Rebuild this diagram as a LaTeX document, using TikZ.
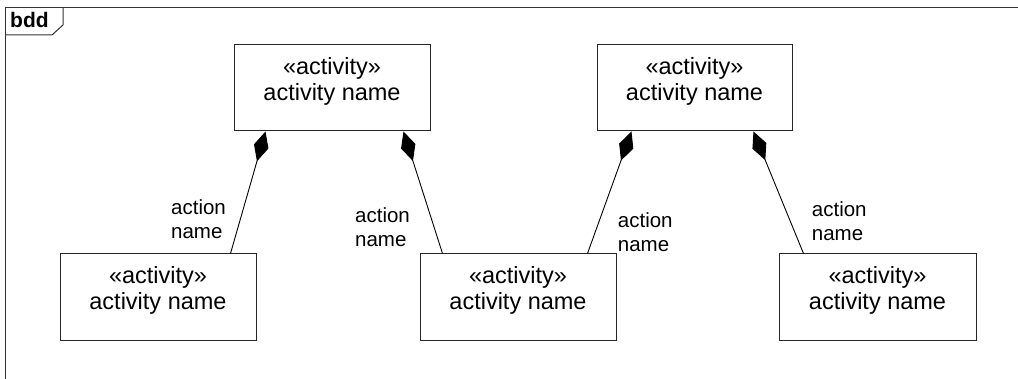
\documentclass[tikz,border=0pt]{standalone}
\usepackage{fontspec}
\setmainfont{Liberation Sans}
\usetikzlibrary{arrows.meta}
\tikzset{
  blockbox/.style={draw=black!85, line width=1pt, minimum width=196pt, minimum height=86pt, inner sep=0pt},
  blocktext/.style={anchor=north, inner sep=0pt, align=center, font=\fontsize{23.5}{26}\selectfont},
  rolelabel/.style={anchor=north west, inner sep=0pt, align=left, font=\fontsize{20.5}{24}\selectfont},
  frameline/.style={draw=black!80, line width=1pt},
  compo/.style={draw=black, line width=0.9pt, -{Diamond[length=31pt,width=15pt,fill=black]}}
}
\begin{document}
\begin{tikzpicture}[x=1pt,y=1pt]
\useasboundingbox (0,0) rectangle (1018,-379);
% frame
\coordinate (fTR) at (1018,-7.5);
\coordinate (fTL) at (5,-7.5);
\coordinate (fBL) at (5,-379);
\draw[frameline] (fTR) -- (fTL) -- (fBL);
\coordinate (tabA) at (63,-7.5);
\coordinate (tabB) at (63,-25);
\coordinate (tabC) at (52,-35);
\coordinate (tabD) at (5,-35);
\draw[frameline] (tabA) -- (tabB) -- (tabC) -- (tabD);
\node[anchor=base west, inner sep=0pt, font=\fontsize{21}{24}\selectfont\bfseries] (bdd) at (10,-27.3) {bdd};
% blocks
\node[blockbox] (tl) at (332,-88) {};
\node[blockbox, minimum width=195pt] (tr) at (694.5,-88) {};
\node[blockbox, minimum height=87pt] (bl) at (158,-297.5) {};
\node[blockbox, minimum height=87pt] (bm) at (518,-297.5) {};
\node[blockbox, minimum height=87pt, minimum width=197pt] (br) at (877.5,-297.5) {};
\node[blocktext] (tlt) at ([yshift=-12.5pt]tl.north) {«activity»\\activity name};
\node[blocktext] (trt) at ([yshift=-12.5pt]tr.north) {«activity»\\activity name};
\node[blocktext] (blt) at ([yshift=-12.5pt]bl.north) {«activity»\\activity name};
\node[blocktext] (bmt) at ([yshift=-12.5pt]bm.north) {«activity»\\activity name};
\node[blocktext] (brt) at ([yshift=-12.5pt]br.north) {«activity»\\activity name};
% composition connectors
\draw[compo] ([xshift=171pt]bl.north west) -- ([xshift=32pt]tl.south west);
\draw[compo] ([xshift=23pt]bm.north west) -- ([xshift=170pt]tl.south west);
\draw[compo] ([xshift=168pt]bm.north west) -- ([xshift=35pt]tr.south west);
\draw[compo] ([xshift=25pt]br.north west) -- ([xshift=157pt]tr.south west);
% role labels
\node[rolelabel] (r1) at (171,-199.3) {action\\name};
\node[rolelabel] (r2) at (355,-207.6) {action\\name};
\node[rolelabel] (r3) at (617.7,-212) {action\\name};
\node[rolelabel] (r4) at (811.7,-201.3) {action\\name};
\end{tikzpicture}
\end{document}
